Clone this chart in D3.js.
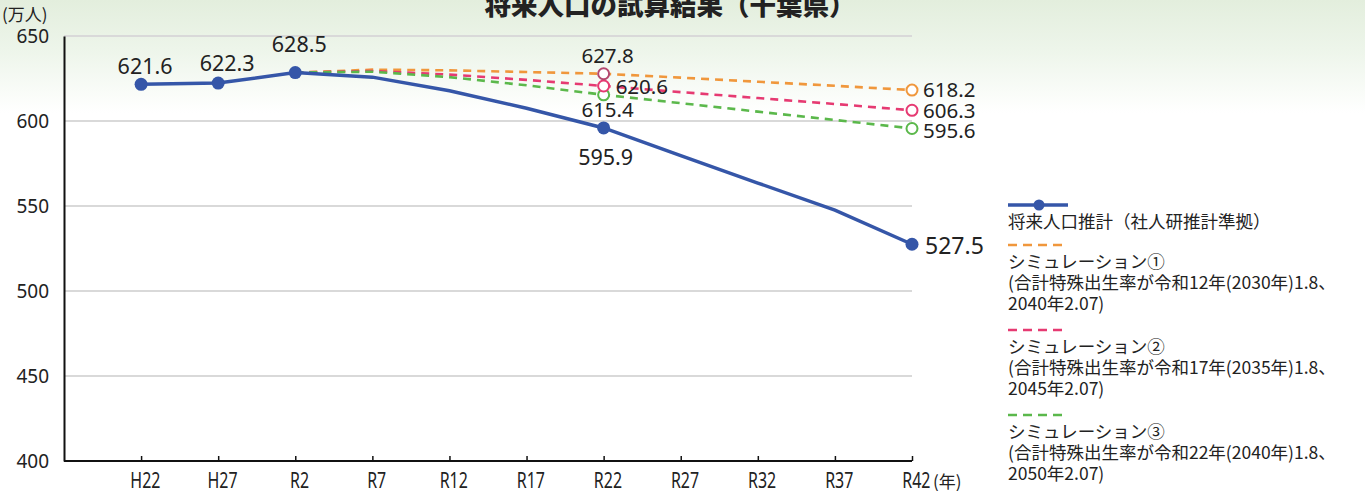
<!DOCTYPE html>
<html>
<head>
<meta charset="utf-8">
<script src="https://cdn.jsdelivr.net/npm/d3@7"></script>
<style>
  html, body { margin: 0; padding: 0; background: #fff; }
  text { font-family: "Noto Sans CJK JP", "Noto Sans", sans-serif; fill: #222; }
</style>
</head>
<body>
<script>
// categories (x axis)
var years = ["H22", "H27", "R2", "R7", "R12", "R17", "R22", "R27", "R32", "R37", "R42"];
var yTicks = [400, 450, 500, 550, 600, 650];

// series values (万人), null = no value
var suikei = [621.6, 622.3, 628.5, 625.8, 617.8, 607.5, 595.9, 579.6, 563.5, 547.6, 527.5];
var sim1 = [null, null, 628.5, 630.2, 629.8, 628.8, 627.8, 625.5, 623.1, 620.7, 618.2];
var sim2 = [null, null, 628.5, 629.4, 627.3, 624.2, 620.6, 617.0, 613.5, 610.0, 606.3];
var sim3 = [null, null, 628.5, 629.0, 625.8, 621.0, 615.4, 610.5, 605.5, 600.6, 595.6];

var legendNames = [
  ["将来人口推計（社人研推計準拠）"],
  ["シミュレーション①", "(合計特殊出生率が令和12年(2030年)1.8、", "2040年2.07)"],
  ["シミュレーション②", "(合計特殊出生率が令和17年(2035年)1.8、", "2045年2.07)"],
  ["シミュレーション③", "(合計特殊出生率が令和22年(2040年)1.8、", "2050年2.07)"]
];

var blue = "#3556a8", orange = "#f0973c", pink = "#e63a72", green = "#5bb84b";

var width = 1365, height = 491;
var svg = d3.select("body").append("svg").attr("width", width).attr("height", height);

// background fade
var grad = svg.append("defs").append("linearGradient").attr("id", "bg")
  .attr("x1", 0).attr("y1", 0).attr("x2", 0).attr("y2", 1);
grad.append("stop").attr("offset", 0).attr("stop-color", "#e3eedd");
grad.append("stop").attr("offset", 0.1).attr("stop-color", "#edf5ea");
grad.append("stop").attr("offset", 0.23).attr("stop-color", "#ffffff");
svg.append("rect").attr("width", width).attr("height", height).attr("fill", "url(#bg)");

// title (cut at the top like the source)
svg.append("text").attr("x", 670).attr("y", 15).attr("text-anchor", "middle")
  .style("font-size", "26.5px").style("font-weight", 900)
  .text("将来人口の試算結果（千葉県）");

// plot area
var plotL = 64, plotR = 912, plotT = 36, plotB = 461;
var step = (plotR - plotL) / 11;

var x = d3.scalePoint().domain(years).range([plotL + step, plotR]);
var y = d3.scaleLinear().domain([400, 650]).range([plotB, plotT]);

// grid
svg.append("g").selectAll("line").data(yTicks.slice(1)).enter().append("line")
  .attr("x1", plotL).attr("x2", plotR)
  .attr("y1", d => y(d)).attr("y2", d => y(d))
  .attr("stroke", "#d9d9d9").attr("stroke-width", 2);

// y axis
var yAxis = svg.append("g").attr("transform", `translate(${plotL},0)`)
  .call(d3.axisLeft(y).tickValues(yTicks).tickSize(0).tickPadding(15));
yAxis.select(".domain").attr("stroke", "#111").attr("stroke-width", 2);
yAxis.selectAll("text").style("font-family", "Noto Sans").style("font-size", "19px").attr("fill", "#222");

svg.append("text").attr("x", 2).attr("y", 21).style("font-size", "17px").text("(万人)");

// x axis
var xAxis = svg.append("g").attr("transform", `translate(0,${plotB})`)
  .call(d3.axisBottom(x).tickSizeInner(-5).tickSizeOuter(0).tickPadding(12));
xAxis.select(".domain").attr("d", `M${plotL},0H${plotR}`).attr("stroke", "#111").attr("stroke-width", 2);
xAxis.selectAll(".tick line").attr("stroke", "#111").attr("stroke-width", 1.5);
xAxis.selectAll("text").style("font-family", "Noto Sans").style("font-size", "21px")
  .attr("fill", "#222").attr("transform", "scale(0.76,1)").attr("dx", 5);
svg.append("text").attr("x", 933).attr("y", 488).style("font-size", "17px").text("(年)");

// lines
var line = d3.line().defined(d => d != null)
  .x((d, i) => x(years[i])).y(d => y(d));

var sims = [[sim1, orange], [sim2, pink], [sim3, green]];
sims.forEach(s => {
  svg.append("path").datum(s[0]).attr("d", line)
    .attr("fill", "none").attr("stroke", s[1]).attr("stroke-width", 2.6)
    .attr("stroke-dasharray", "8,6");
});

svg.append("path").datum(suikei).attr("d", line)
  .attr("fill", "none").attr("stroke", blue).attr("stroke-width", 3.5);

// markers
var dotIdx = [0, 1, 2, 6, 10];
svg.append("g").selectAll("circle").data(dotIdx).enter().append("circle")
  .attr("cx", i => x(years[i])).attr("cy", i => y(suikei[i])).attr("r", 6.5)
  .attr("fill", blue);

var simMarkers = [[sim3, green, green], [sim2, pink, pink], [sim1, "#b4486f", orange]];
simMarkers.forEach(s => {
  [6, 10].forEach(i => {
    svg.append("circle").attr("cx", x(years[i])).attr("cy", y(s[0][i])).attr("r", 5.5)
      .attr("fill", "#fff").attr("stroke", i == 6 ? s[1] : s[2]).attr("stroke-width", 2);
  });
});

// value labels: [series, index, dx, dy, anchor, size]
var labels = [
  [suikei, 0, 4, -10, "middle", 21.5],
  [suikei, 1, 9, -12, "middle", 21.5],
  [suikei, 2, 4, -21, "middle", 21.5],
  [suikei, 6, 2, 37, "middle", 21.5],
  [suikei, 10, 13, 10, "start", 23],
  [sim1, 6, 4, -11, "middle", 20.5],
  [sim2, 6, 12, 8, "start", 20.5],
  [sim3, 6, 4, 22, "middle", 20.5],
  [sim1, 10, 11, 7, "start", 20.5],
  [sim2, 10, 11, 8, "start", 20.5],
  [sim3, 10, 11, 10, "start", 20.5]
];
svg.append("g").selectAll("text").data(labels).enter().append("text")
  .attr("x", d => x(years[d[1]]) + d[2])
  .attr("y", d => y(d[0][d[1]]) + d[3])
  .attr("text-anchor", d => d[4])
  .style("font-family", "Noto Sans")
  .style("font-size", d => d[5] + "px")
  .text(d => d[0][d[1]].toFixed(1));

// legend
var lg = svg.append("g").attr("transform", "translate(1008,0)");
lg.append("line").attr("x1", 0).attr("x2", 60).attr("y1", 205).attr("y2", 205)
  .attr("stroke", blue).attr("stroke-width", 3.5);
lg.append("circle").attr("cx", 31).attr("cy", 205).attr("r", 5.5).attr("fill", blue);
lg.append("text").attr("x", 0).attr("y", 228).style("font-size", "17.5px").text(legendNames[0][0]);

var legendSims = [[orange, 245, 268], [pink, 330, 353], [green, 415, 438]];
legendSims.forEach((s, k) => {
  lg.append("line").attr("x1", 0).attr("x2", 58).attr("y1", s[1]).attr("y2", s[1])
    .attr("stroke", s[0]).attr("stroke-width", 2.6).attr("stroke-dasharray", "9,6");
  legendNames[k + 1].forEach((t, j) => {
    lg.append("text").attr("x", 0).attr("y", s[2] + j * 21)
      .style("font-size", "17.5px").text(t);
  });
});
</script>
</body>
</html>
